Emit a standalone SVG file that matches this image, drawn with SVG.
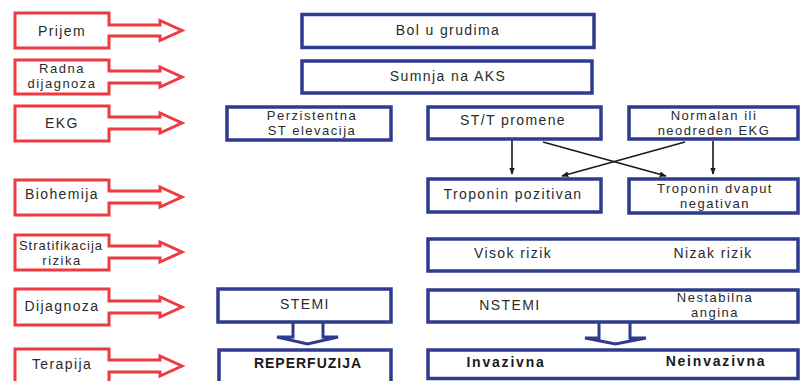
<svg xmlns="http://www.w3.org/2000/svg" width="800" height="381" viewBox="0 0 800 381">
<style>
.red{fill:#fff;stroke:#ee3a40;stroke-width:3;stroke-linejoin:miter}
.box{fill:#fff;stroke:#2e3b8e;stroke-width:3.5}
.blk{fill:#fff;stroke:#2e3b8e;stroke-width:3}
.t{font-family:"Liberation Sans",Arial,sans-serif;font-size:14px;fill:#2b2b2b;text-anchor:middle;letter-spacing:1.4px}
.s{font-size:13px;letter-spacing:1.5px}
.b{font-weight:bold;fill:#1a1a1a}
.con{stroke:#1a1a1a;stroke-width:1.6;fill:none;marker-end:url(#ah)}
</style>
<defs>
<marker id="ah" viewBox="0 0 10 10" refX="9" refY="5" markerWidth="7" markerHeight="7" orient="auto" markerUnits="userSpaceOnUse">
<path d="M0,1 L10,5 L0,9 Z" fill="#1a1a1a"/>
</marker>
</defs>
<rect width="800" height="381" fill="#fff"/>

<g id="stages">
<g id="s-prijem"><path class="red" d="M15,13 H109 V25 H160 V20.5 L182,30.5 L160,40.5 V36 H109 V48 H15 Z"/><text class="t" x="62" y="36">Prijem</text></g>
<g id="s-radna"><path class="red" d="M15,60 H109 V71 H160 V67 L182,77 L160,87 V83 H109 V94 H15 Z"/><text class="t s" x="62" y="72.5">Radna</text><text class="t s" x="62" y="87.5">dijagnoza</text></g>
<g id="s-ekg"><path class="red" d="M15,106 H109 V117 H160 V113 L182,123 L160,133 V129 H109 V141 H15 Z"/><text class="t" x="62" y="128">EKG</text></g>
<g id="s-bio"><path class="red" d="M15,180 H109 V191 H160 V187 L182,197 L160,207 V203 H109 V215 H15 Z"/><text class="t" x="62" y="199">Biohemija</text></g>
<g id="s-strat"><path class="red" d="M15,235 H109 V246 H160 V242 L182,252 L160,262 V258 H109 V270 H15 Z"/><text class="t s" x="61" y="250" style="letter-spacing:1px">Stratifikacija</text><text class="t s" x="62" y="265">rizika</text></g>
<g id="s-dij"><path class="red" d="M15,289 H109 V301 H160 V297 L182,307 L160,317 V313 H109 V325 H15 Z"/><text class="t" x="62" y="311">Dijagnoza</text></g>
<g id="s-ter"><path class="red" d="M15,349 H109 V360 H160 V356 L182,366 L160,376 V372 H109 V386 H15 Z"/><text class="t" x="62" y="369">Terapija</text></g>
</g>

<g id="connectors">
<line class="con" x1="512" y1="140" x2="512" y2="174"/>
<line class="con" x1="713" y1="141" x2="713" y2="174"/>
<line class="con" x1="543" y1="142" x2="666" y2="176"/>
<line class="con" x1="685" y1="142" x2="562" y2="176"/>
<path class="blk" d="M293,322 V337 H277 L307.5,344 L338,337 H323 V322"/>
<path class="blk" d="M599,322 V338 H585 L615.5,344 L646,338 H630 V322"/>
</g>

<g id="n-bol"><rect class="box" x="302" y="14.5" width="292" height="33"/><text class="t" x="448" y="35">Bol u grudima</text></g>
<g id="n-aks"><rect class="box" x="302" y="61" width="290" height="32"/><text class="t" x="448" y="81">Sumnja na AKS</text></g>
<g id="n-pers"><rect class="box" x="227" y="107" width="164" height="33"/><text class="t s" x="312" y="119.5">Perzistentna</text><text class="t s" x="312" y="134.5">ST elevacija</text></g>
<g id="n-stt"><rect class="box" x="428" y="107" width="173" height="32"/><text class="t" x="513" y="125">ST/T promene</text></g>
<g id="n-norm"><rect class="box" x="629" y="107" width="169" height="32"/><text class="t s" x="714" y="119.5">Normalan ili</text><text class="t s" x="714" y="134.5">neodreden EKG</text></g>
<g id="n-tpoz"><rect class="box" x="428" y="179" width="173" height="33"/><text class="t" x="513" y="199">Troponin pozitivan</text></g>
<g id="n-tneg"><rect class="box" x="629" y="179" width="169" height="34"/><text class="t s" x="715" y="192.5">Troponin dvaput</text><text class="t s" x="715" y="207.5">negativan</text></g>
<g id="n-rizik"><rect class="box" x="428" y="239" width="370" height="32"/><text class="t" x="513" y="258">Visok rizik</text><text class="t" x="713" y="258">Nizak rizik</text></g>
<g id="n-stemi"><rect class="box" x="218" y="289" width="173" height="33"/><text class="t" x="305" y="309">STEMI</text></g>
<g id="n-nstemi"><rect class="box" x="428" y="290" width="370" height="32"/><text class="t" x="510" y="310">NSTEMI</text><text class="t s" x="715" y="301.5">Nestabilna</text><text class="t s" x="715" y="316.5">angina</text></g>
<g id="n-rep"><rect class="box" x="219" y="350" width="172" height="34"/><text class="t b" x="308" y="368" style="letter-spacing:1px">REPERFUZIJA</text></g>
<g id="n-inv"><rect class="box" x="428" y="350" width="370" height="28.5"/><text class="t b" x="506" y="367" style="letter-spacing:1.8px">Invazivna</text><text class="t b" x="716" y="366" style="letter-spacing:1.8px">Neinvazivna</text></g>
</svg>
